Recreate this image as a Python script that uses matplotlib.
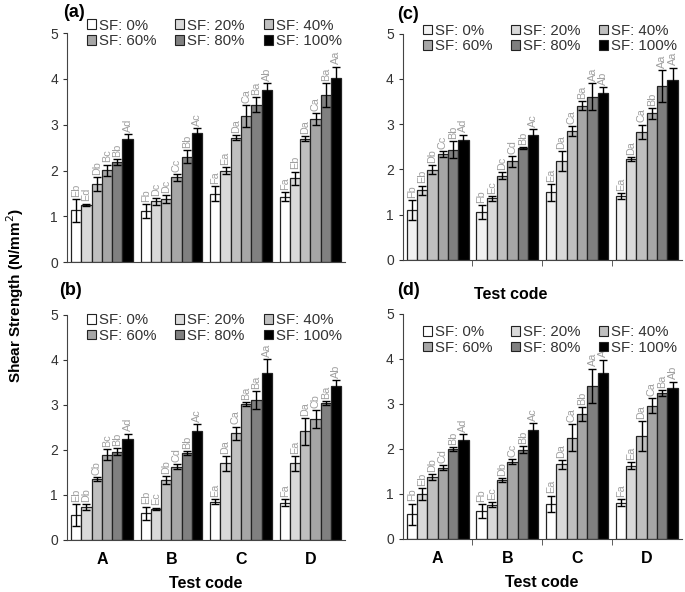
import numpy as np
import matplotlib
matplotlib.use('Agg')
import matplotlib.pyplot as plt
from matplotlib.patches import Patch

plt.rcParams['font.family'] = ['Liberation Sans', 'DejaVu Sans']

codes = ['A', 'B', 'C', 'D']
sf_levels = ['SF: 0%', 'SF: 20%', 'SF: 40%', 'SF: 60%', 'SF: 80%', 'SF: 100%']

# values per test code (rows) and SF level (columns)
a_mean = [[1.13, 1.25, 1.70, 2.01, 2.19, 2.70],
          [1.12, 1.33, 1.38, 1.85, 2.30, 2.82],
          [1.50, 2.00, 2.72, 3.19, 3.44, 3.76],
          [1.43, 1.83, 2.70, 3.12, 3.65, 4.03]]
a_err = [[0.25, 0.03, 0.15, 0.12, 0.06, 0.10],
         [0.15, 0.07, 0.08, 0.08, 0.14, 0.10],
         [0.16, 0.08, 0.05, 0.24, 0.17, 0.15],
         [0.10, 0.15, 0.05, 0.13, 0.26, 0.24]]
a_letters = [['Eb', 'Ed', 'Db', 'Bc', 'Bb', 'Ad'],
             ['Fb', 'Dc', 'Dc', 'Cc', 'Bb', 'Ac'],
             ['Fa', 'Ea', 'Da', 'Ca', 'Ba', 'Ab'],
             ['Fa', 'Eb', 'Da', 'Ca', 'Ba', 'Aa']]

b_mean = [[0.56, 0.73, 1.35, 1.89, 1.96, 2.24],
          [0.59, 0.69, 1.33, 1.63, 1.93, 2.42],
          [0.85, 1.70, 2.37, 3.02, 3.10, 3.72],
          [0.83, 1.70, 2.41, 2.68, 3.04, 3.41]]
b_err = [[0.24, 0.07, 0.04, 0.12, 0.08, 0.12],
         [0.15, 0.03, 0.08, 0.05, 0.05, 0.16],
         [0.05, 0.16, 0.15, 0.05, 0.20, 0.30],
         [0.08, 0.16, 0.30, 0.20, 0.04, 0.14]]
b_letters = [['Eb', 'Db', 'Cb', 'Bc', 'Bb', 'Ad'],
             ['Eb', 'Ec', 'Db', 'Cd', 'Bb', 'Ac'],
             ['Ea', 'Da', 'Ca', 'Ba', 'Ba', 'Aa'],
             ['Fa', 'Ea', 'Da', 'Cb', 'Ba', 'Ab']]

c_mean = [[1.10, 1.54, 1.99, 2.34, 2.44, 2.64],
          [1.06, 1.36, 1.86, 2.18, 2.47, 2.77],
          [1.49, 2.18, 2.85, 3.41, 3.61, 3.68],
          [1.41, 2.23, 2.83, 3.24, 3.85, 3.97]]
c_err = [[0.22, 0.10, 0.10, 0.06, 0.18, 0.13],
         [0.15, 0.05, 0.08, 0.12, 0.02, 0.12],
         [0.18, 0.22, 0.10, 0.10, 0.30, 0.14],
         [0.07, 0.05, 0.16, 0.12, 0.35, 0.28]]
c_letters = [['Fb', 'Eb', 'Db', 'Cc', 'Bb', 'Ad'],
             ['Fb', 'Ec', 'Dc', 'Cd', 'Bb', 'Ac'],
             ['Ea', 'Da', 'Ca', 'Ba', 'Aa', 'Ab'],
             ['Ea', 'Da', 'Ca', 'Bb', 'Aa', 'Aa']]

d_mean = [[0.54, 1.00, 1.37, 1.58, 2.00, 2.20],
          [0.61, 0.76, 1.30, 1.71, 1.98, 2.41],
          [0.78, 1.65, 2.24, 2.77, 3.40, 3.68],
          [0.80, 1.62, 2.28, 2.96, 3.24, 3.36]]
d_err = [[0.24, 0.13, 0.06, 0.06, 0.04, 0.12],
         [0.16, 0.05, 0.05, 0.06, 0.08, 0.16],
         [0.18, 0.09, 0.30, 0.15, 0.38, 0.30],
         [0.08, 0.08, 0.33, 0.16, 0.07, 0.13]]
d_letters = [['Fb', 'Eb', 'Db', 'Cd', 'Bb', 'Ad'],
             ['Fb', 'Ec', 'Db', 'Cc', 'Bb', 'Ac'],
             ['Ea', 'Da', 'Ca', 'Bb', 'Aa', 'Aa'],
             ['Fa', 'Ea', 'Da', 'Ca', 'Ba', 'Ab']]

colors = ['#ffffff', '#d9d9d9', '#bfbfbf', '#a6a6a6', '#808080', '#000000']
colors_c = ['#f2f2f2', '#d9d9d9', '#bfbfbf', '#a6a6a6', '#7f7f7f', '#000000']

fig = plt.figure(figsize=(6.85, 5.92), dpi=100)


def draw_panel(rect, mean, err, letters, cols, tag, tag_xy, legend_y, boundary_ticks, show_xlabels):
    ax = fig.add_axes(rect)
    mean = np.array(mean)
    err = np.array(err)
    x = np.arange(len(codes))
    w = 0.148
    handles = []
    for j in range(len(sf_levels)):
        xs = x + (j - 2.5) * w
        ax.bar(xs, mean[:, j], width=w, color=cols[j], edgecolor='#222222', linewidth=0.9, zorder=2)
        ax.errorbar(xs, mean[:, j], yerr=err[:, j], fmt='none', ecolor='black',
                    elinewidth=1, capsize=3, capthick=1, zorder=3)
        for i in range(len(codes)):
            ax.text(xs[i], mean[i, j] + err[i, j] + 0.05, letters[i][j], rotation=90,
                    ha='center', va='bottom', color='#a0a0a0', fontsize=7.8)
        handles.append(Patch(facecolor=cols[j], edgecolor='#222222', linewidth=0.8))
    order = [0, 3, 1, 4, 2, 5]
    ax.legend([handles[k] for k in order], [sf_levels[k] for k in order], ncol=3,
              loc='upper left', bbox_to_anchor=(0.05, legend_y), frameon=False,
              fontsize=10.8, handlelength=0.6, handleheight=0.6, handletextpad=0.2,
              columnspacing=1.25, labelspacing=0.1, borderaxespad=0, labelcolor='#333333')
    ax.set_xlim(-0.5, 3.5)
    ax.set_ylim(0, 5)
    ax.set_yticks(range(6))
    ax.tick_params(axis='y', labelsize=10, colors='#333333', length=3)
    for s in ['top', 'right']:
        ax.spines[s].set_visible(False)
    ax.spines['left'].set_color('#444444')
    ax.spines['bottom'].set_color('#444444')
    if show_xlabels:
        ax.set_xticks(x)
        ax.set_xticklabels(codes, fontsize=11.5, fontweight='bold')
        ax.tick_params(axis='x', length=0, pad=9)
        ax.set_xlabel('Test code', fontsize=11.5, fontweight='bold', labelpad=6)
    else:
        ax.set_xticks([])
    if boundary_ticks:
        ax.set_xticks([0.5, 1.5, 2.5], minor=True)
        ax.tick_params(axis='x', which='minor', length=4, color='#444444')
    fig.text(tag_xy[0], tag_xy[1], tag, fontsize=13, fontweight='bold', ha='left', va='center')
    return ax


draw_panel([0.098, 0.557, 0.406, 0.387], a_mean, a_err, a_letters, colors, '(a)', (0.092, 0.979), 1.09, False, False)
draw_panel([0.588, 0.561, 0.407, 0.382], c_mean, c_err, c_letters, colors_c, '(c)', (0.580, 0.976), 1.07, True, False)
draw_panel([0.098, 0.088, 0.406, 0.380], b_mean, b_err, b_letters, colors, '(b)', (0.086, 0.51), 1.035, False, True)
draw_panel([0.588, 0.090, 0.407, 0.380], d_mean, d_err, d_letters, colors, '(d)', (0.580, 0.51), 0.975, True, True)

fig.text(0.745, 0.503, 'Test code', fontsize=11.5, fontweight='bold', ha='center', va='center')
fig.text(0.022, 0.5, 'Shear Strength (N/mm$^2$)', rotation=90, fontsize=11,
         fontweight='bold', ha='center', va='center')

fig.savefig('out.png', dpi=100)
